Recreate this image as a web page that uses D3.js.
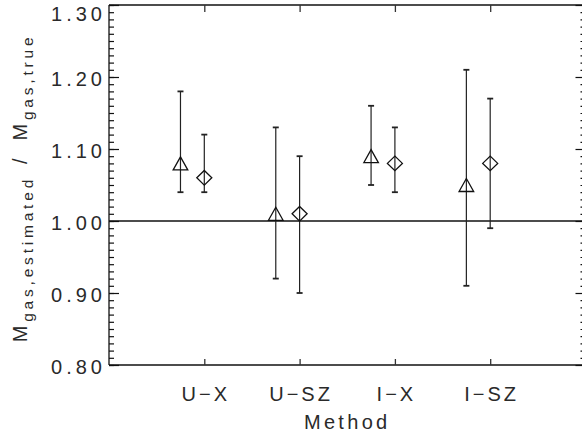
<!DOCTYPE html>
<html>
<head>
<meta charset="utf-8">
<script src="https://cdn.jsdelivr.net/npm/d3@7"></script>
<style>
  html, body { margin: 0; padding: 0; background: #fff; }
  svg { display: block; }
  text { font-family: "Liberation Sans", Arial, sans-serif; fill: #2a2a2a; }
</style>
</head>
<body>
<svg id="chart" width="582" height="436"></svg>
<script>
// ---- data ----
const categories = ["U−X", "U−SZ", "I−X", "I−SZ"];
const categoryPos = [1, 2, 3, 4];
const triangleValue = [1.08, 1.01, 1.09, 1.05];
const triangleLow   = [1.04, 0.92, 1.05, 0.91];
const triangleHigh  = [1.18, 1.13, 1.16, 1.21];
const diamondValue  = [1.06, 1.01, 1.08, 1.08];
const diamondLow    = [1.04, 0.90, 1.04, 0.99];
const diamondHigh   = [1.12, 1.09, 1.13, 1.17];
const yTickValues   = [0.80, 0.90, 1.00, 1.10, 1.20, 1.30];
const referenceLine = 1.00;
const triangleOffset = -0.25;

// ---- layout ----
const svg = d3.select("#chart");
const L = 109, R = 585.5, T = 5, B = 365;
const x = d3.scaleLinear().domain([0, 5]).range([L, R]);
const y = d3.scaleLinear().domain([0.8, 1.3]).range([B, T]);

// frame
const frame = svg.append("g").attr("stroke", "#111").attr("fill", "none");
frame.append("line").attr("x1", L).attr("x2", R).attr("y1", T).attr("y2", T).attr("stroke-width", 1.6);
frame.append("line").attr("x1", L).attr("x2", R).attr("y1", B).attr("y2", B).attr("stroke-width", 1.6);
frame.append("line").attr("x1", L).attr("x2", L).attr("y1", T).attr("y2", B).attr("stroke-width", 1.3);
frame.append("line").attr("x1", R).attr("x2", R).attr("y1", T).attr("y2", B).attr("stroke-width", 1.3);

// y axes (left and right) with minor ticks
const minor = d3.range(0, 51).map(i => 0.8 + i * 0.01);
const gl = svg.append("g").attr("transform", `translate(${L},0)`).call(d3.axisLeft(y).tickValues(minor).tickSize(-5).tickFormat(""));
const gr = svg.append("g").attr("transform", `translate(${R},0)`).call(d3.axisRight(y).tickValues(minor).tickSize(-5).tickFormat(""));
const glM = svg.append("g").attr("transform", `translate(${L},0)`).call(d3.axisLeft(y).tickValues(yTickValues).tickSize(-10).tickFormat(""));
const grM = svg.append("g").attr("transform", `translate(${R},0)`).call(d3.axisRight(y).tickValues(yTickValues).tickSize(-10).tickFormat(""));
[gl, gr, glM, grM].forEach(g => {
  g.select(".domain").remove();
  g.selectAll("line").attr("stroke", "#111").attr("stroke-width", 1.2);
});

// y tick labels
svg.append("g").selectAll("text").data(yTickValues).join("text")
  .attr("x", 102 + 4)
  .attr("y", d => Math.max(y(d) + 2, 13.5))
  .attr("dy", "0.36em")
  .attr("text-anchor", "end")
  .attr("font-size", 20)
  .attr("letter-spacing", 4)
  .text(d => d.toFixed(2));

// x axes (bottom and top)
const gb = svg.append("g").attr("transform", `translate(0,${B})`)
  .call(d3.axisBottom(x).tickValues(categoryPos).tickSize(-6).tickFormat(""));
const gt = svg.append("g").attr("transform", `translate(0,${T})`)
  .call(d3.axisTop(x).tickValues(categoryPos).tickSize(-7).tickFormat(""));
[gb, gt].forEach(g => {
  g.select(".domain").remove();
  g.selectAll("line").attr("stroke", "#333").attr("stroke-width", 1.3);
});

// x category labels
svg.append("g").selectAll("text").data(categories).join("text")
  .attr("x", (d, i) => x(categoryPos[i]) + 1.5)
  .attr("y", 401)
  .attr("text-anchor", "middle")
  .attr("font-size", 20)
  .attr("letter-spacing", 3)
  .text(d => d);

// x title
svg.append("text")
  .attr("x", (L + R) / 2)
  .attr("y", 429)
  .attr("text-anchor", "middle")
  .attr("font-size", 20)
  .attr("letter-spacing", 3.3)
  .text("Method");

// y title
const yt = svg.append("text")
  .attr("transform", `translate(27,188) rotate(-90)`)
  .attr("text-anchor", "middle")
  .attr("font-size", 20)
  .attr("letter-spacing", 3.8);
yt.append("tspan").text("M");
yt.append("tspan").attr("font-size", 15.5).attr("dy", 6).text("gas,estimated");
yt.append("tspan").attr("dy", -6).attr("dx", 12).text("/");
yt.append("tspan").attr("dx", 14).text("M");
yt.append("tspan").attr("font-size", 15.5).attr("dy", 6).text("gas,true");

// reference line
svg.append("line")
  .attr("x1", L).attr("x2", R)
  .attr("y1", y(referenceLine)).attr("y2", y(referenceLine))
  .attr("stroke", "#111").attr("stroke-width", 1.6);

// error bars
function errorBars(pos, low, high, offset) {
  const g = svg.append("g").attr("stroke", "#222");
  pos.forEach((p, i) => {
    const cx = x(p + offset);
    g.append("line").attr("x1", cx).attr("x2", cx)
      .attr("y1", y(low[i])).attr("y2", y(high[i])).attr("stroke-width", 1.2);
    [low[i], high[i]].forEach(v => {
      g.append("line").attr("x1", cx - 3).attr("x2", cx + 3)
        .attr("y1", y(v)).attr("y2", y(v)).attr("stroke-width", 1.8);
    });
  });
}
errorBars(categoryPos, triangleLow, triangleHigh, triangleOffset);
errorBars(categoryPos, diamondLow, diamondHigh, 0);

// triangles
svg.append("g").selectAll("path").data(triangleValue).join("path")
  .attr("d", (d, i) => {
    const cx = x(categoryPos[i] + triangleOffset), cy = y(d);
    return `M${cx - 7.3},${cy + 6.5}L${cx},${cy - 6.5}L${cx + 7.3},${cy + 6.5}Z`;
  })
  .attr("fill", "none").attr("stroke", "#111").attr("stroke-width", 1.3);

// diamonds
svg.append("g").selectAll("path").data(diamondValue).join("path")
  .attr("d", (d, i) => {
    const cx = x(categoryPos[i]), cy = y(d);
    return `M${cx - 7.5},${cy}L${cx},${cy - 7.3}L${cx + 7.5},${cy}L${cx},${cy + 7.3}Z`;
  })
  .attr("fill", "none").attr("stroke", "#111").attr("stroke-width", 1.3);
</script>
</body>
</html>
